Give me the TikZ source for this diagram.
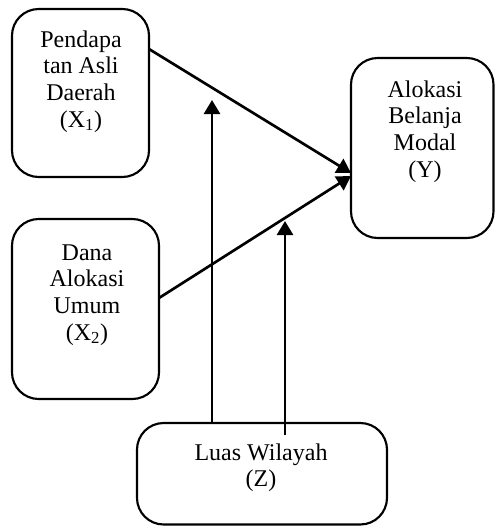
\documentclass[tikz,border=0pt]{standalone}
\usepackage{fontspec}
\setmainfont{Liberation Serif}
\usetikzlibrary{arrows.meta,calc}
\begin{document}
\begin{tikzpicture}[x=0.75pt,y=-0.75pt,
  box/.style={draw, line width=1.6pt, rounded corners=20pt, inner sep=0pt, outer sep=0pt},
  lbl/.style={anchor=north, inner sep=0pt, align=center, font=\fontsize{18}{20}\selectfont},
  conn/.style={line width=2pt, -{Triangle[length=10.5pt,width=12pt]}}]
\useasboundingbox (0,0) rectangle (495,526);
% boxes
\node[box, minimum width={137*0.75pt}, minimum height={168*0.75pt}] (x1) at (80.5,93) {};
\node[box, minimum width={147*0.75pt}, minimum height={180*0.75pt}] (x2) at (85.5,309) {};
\node[box, minimum width={142.5*0.75pt}, minimum height={180*0.75pt}] (y) at (422.25,148) {};
\node[box, minimum width={250*0.75pt}, minimum height={101.5*0.75pt}] (z) at (262,473.75) {};
% labels
\node[lbl] (x1t) at (81,28.3) {\strut Pendapa\\tan Asli\\Daerah\\(X\textsubscript{1})};
\node[lbl] (x2t) at (87,241.3) {\strut Dana\\Alokasi\\Umum\\(X\textsubscript{2})};
\node[lbl] (yt) at (425,78.3) {\strut Alokasi\\Belanja\\Modal\\(Y)};
\node[lbl] (zt) at (261,441.3) {\strut Luas Wilayah\\(Z)};
% connectors
\coordinate (t1) at (212,100);
\coordinate (t2) at (285,221);
\draw[conn] ($(x1.east)+(0,-44)$) -- ($(y.west)+(0,25)$);
\draw[conn] ($(x2.east)+(0,-11)$) -- ($(y.west)+(0,28)$);
\draw[conn] (z.north -| t1) -- (t1);
\draw[conn] ($(z.north -| t2)+(0,12)$) -- (t2);
\end{tikzpicture}
\end{document}
